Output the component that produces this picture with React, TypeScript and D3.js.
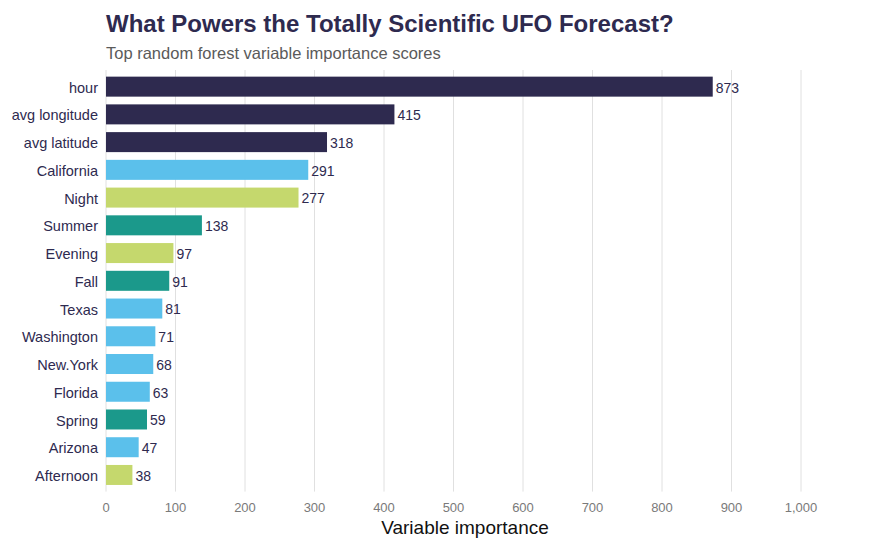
import React from "react";
import * as d3 from "d3";

const categories = ["hour", "avg longitude", "avg latitude", "California", "Night", "Summer", "Evening", "Fall", "Texas", "Washington", "New.York", "Florida", "Spring", "Arizona", "Afternoon"];
const values = [873, 415, 318, 291, 277, 138, 97, 91, 81, 71, 68, 63, 59, 47, 38];
const groups = ["location", "location", "location", "state", "time", "season", "time", "season", "state", "state", "state", "state", "season", "state", "time"];
const groupNames = ["location", "state", "time", "season"];
const groupColors = ["#2E2A4F", "#5BC0EB", "#C5D86D", "#1B998B"];
const xTicks = [0, 100, 200, 300, 400, 500, 600, 700, 800, 900, 1000];

const W = 869, H = 551;
const left = 106;
const top = 70, bottom = 491.6;

export default function App() {
  const x = d3.scaleLinear().domain([0, 1000]).range([left, 801]);
  const n = categories.length;
  const step = (bottom - top) / (n - 1 + 1.2);
  const y = (i: number) => top + step * (0.6 + i);
  const barH = 20;
  const color = d3.scaleOrdinal<string, string>().domain(groupNames).range(groupColors);
  const fmt = d3.format(",");
  const font = "'Liberation Sans', Arial, sans-serif";
  return (
    <svg width={W} height={H} style={{ position: "absolute", left: 0, top: 0, fontFamily: font }}>
      <rect width={W} height={H} fill="#fff" />
      <text x={106} y={32} fontSize={24} fontWeight="bold" fill="#2E2A4F">What Powers the Totally Scientific UFO Forecast?</text>
      <text x={106} y={59} fontSize={16.5} fill="#5a5a5a">Top random forest variable importance scores</text>
      {xTicks.map(t => (
        <line key={t} x1={x(t)} x2={x(t)} y1={top} y2={bottom} stroke="#e0e0e0" strokeWidth={1} />
      ))}
      {categories.map((c, i) => (
        <g key={c}>
          <rect x={x(0)} y={y(i) - barH / 2} width={x(values[i]) - x(0)} height={barH} fill={color(groups[i])} />
          <text x={98} y={y(i) + 1} dy="0.35em" textAnchor="end" fontSize={14.5} fill="#2E2A4F">{c}</text>
          <text x={x(values[i]) + 3} y={y(i) + 1} dy="0.35em" fontSize={14} fill="#2E2A4F">{values[i]}</text>
        </g>
      ))}
      {xTicks.map(t => (
        <text key={t} x={x(t)} y={507} dy="0.35em" textAnchor="middle" fontSize={13} fill="#7a7a7a">{fmt(t)}</text>
      ))}
      <text x={465} y={527} dy="0.35em" textAnchor="middle" fontSize={19} fill="#111">Variable importance</text>
    </svg>
  );
}
